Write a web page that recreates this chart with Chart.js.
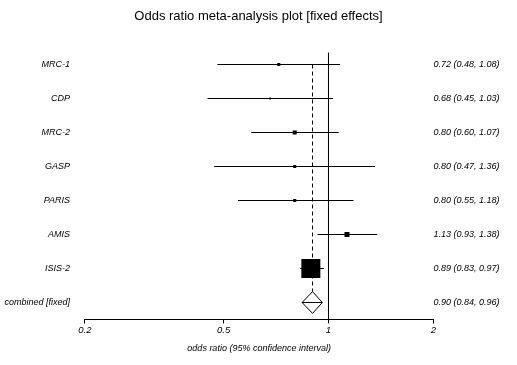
<!DOCTYPE html>
<html>
<head>
<meta charset="utf-8">
<script src="https://cdn.jsdelivr.net/npm/chart.js@4/dist/chart.umd.min.js"></script>
<style>
  html, body { margin: 0; padding: 0; background: #fff; }
  #wrap { width: 517px; height: 365px; }
</style>
</head>
<body>
<div id="wrap"><canvas id="forestChart"></canvas></div>
<script>
// study data
const studies = ['MRC-1', 'CDP', 'MRC-2', 'GASP', 'PARIS', 'AMIS', 'ISIS-2'];
const oddsRatio = [0.72, 0.68, 0.80, 0.80, 0.80, 1.13, 0.89];
const lowerCI = [0.48, 0.45, 0.60, 0.47, 0.55, 0.93, 0.83];
const upperCI = [1.08, 1.03, 1.07, 1.36, 1.18, 1.38, 0.97];
const weights = [2.1, 0.9, 3.7, 2.1, 2.1, 5.8, 83.4]; // percent, sets box area
const pooled = [0.90, 0.84, 0.96]; // estimate, lower, upper
const pooledLabel = 'combined [fixed]';
const xTicks = [0.2, 0.5, 1, 2];

const font = 'Liberation Sans, Arial, sans-serif';
const rowLabels = studies.concat([pooledLabel]);
const fmt = v => v.toFixed(2);
const ciLabels = oddsRatio.map((v, i) => fmt(v) + ' (' + fmt(lowerCI[i]) + ', ' + fmt(upperCI[i]) + ')')
  .concat([fmt(pooled[0]) + ' (' + fmt(pooled[1]) + ', ' + fmt(pooled[2]) + ')']);

const yMin = -0.35, yMax = 7.5;
const pooledRow = studies.length;
const dh = 0.32; // diamond half height in rows

const datasets = [];

// confidence interval lines
studies.forEach((s, i) => {
  datasets.push({
    label: s,
    data: [{ x: lowerCI[i], y: i }, { x: upperCI[i], y: i }],
    showLine: true, borderColor: '#000', borderWidth: 1, pointRadius: 0
  });
});

// line of no effect
datasets.push({
  label: 'null',
  data: [{ x: 1, y: yMin }, { x: 1, y: yMax }],
  showLine: true, borderColor: '#000', borderWidth: 1, pointRadius: 0
});

// pooled estimate dashed line
datasets.push({
  label: 'pooled line',
  data: [{ x: pooled[0], y: 0 }, { x: pooled[0], y: pooledRow - dh }],
  showLine: true, borderColor: '#000', borderWidth: 1, borderDash: [4, 3], pointRadius: 0
});

// study boxes
datasets.push({
  label: 'boxes',
  data: oddsRatio.map((v, i) => ({ x: v, y: i })),
  pointStyle: 'rect',
  pointRadius: weights.map(w => 1.47 * Math.sqrt(w)),
  backgroundColor: '#000', borderWidth: 0
});

// pooled diamond
datasets.push({
  label: 'diamond',
  data: [
    { x: pooled[1], y: pooledRow }, { x: pooled[0], y: pooledRow - dh },
    { x: pooled[2], y: pooledRow }, { x: pooled[0], y: pooledRow + dh },
    { x: pooled[1], y: pooledRow }, { x: pooled[2], y: pooledRow }
  ],
  showLine: true, borderColor: '#000', borderWidth: 1, pointRadius: 0, tension: 0
});

const ctx = document.getElementById('forestChart').getContext('2d');
new Chart(ctx, {
  type: 'scatter',
  data: { datasets: datasets },
  options: {
    responsive: true,
    maintainAspectRatio: false,
    animation: false,
    plugins: {
      legend: { display: false },
      tooltip: { enabled: false },
      title: {
        display: true,
        text: 'Odds ratio meta-analysis plot [fixed effects]',
        color: '#000',
        font: { family: font, size: 13, weight: 'normal' },
        padding: { top: 9, bottom: 28 }
      }
    },
    scales: {
      x: {
        type: 'logarithmic',
        min: 0.2, max: 2,
        afterBuildTicks: s => { s.ticks = xTicks.map(v => ({ value: v })); },
        afterFit: s => { s.height = 45.5; },
        ticks: {
          callback: v => String(v),
          color: '#000', padding: 1, maxRotation: 0, autoSkip: false,
          font: { family: font, size: 9.5, style: 'italic' }
        },
        grid: { display: true, drawOnChartArea: false, drawTicks: true, tickLength: 4, color: '#000' },
        border: { display: true, color: '#000', width: 1 },
        title: {
          display: true,
          text: 'odds ratio (95% confidence interval)',
          color: '#000',
          font: { family: font, size: 9, style: 'italic' },
          padding: { top: 0, bottom: 11 }
        }
      },
      y: {
        type: 'linear', position: 'left',
        min: yMin, max: yMax, reverse: true,
        afterBuildTicks: s => { s.ticks = rowLabels.map((l, i) => ({ value: i })); },
        afterFit: s => { s.width = 84.9; },
        ticks: {
          callback: v => rowLabels[v],
          color: '#000', padding: 14.9, autoSkip: false,
          font: { family: font, size: 9, style: 'italic' }
        },
        grid: { display: false, drawTicks: false },
        border: { display: false }
      },
      y2: {
        type: 'linear', position: 'right',
        min: yMin, max: yMax, reverse: true,
        afterBuildTicks: s => { s.ticks = ciLabels.map((l, i) => ({ value: i })); },
        afterFit: s => { s.width = 83.6; },
        ticks: {
          callback: v => ciLabels[v],
          color: '#000', crossAlign: 'near', padding: 0, autoSkip: false,
          font: { family: font, size: 9, style: 'italic' }
        },
        grid: { display: false, drawTicks: false },
        border: { display: false }
      }
    }
  }
});
</script>
</body>
</html>
